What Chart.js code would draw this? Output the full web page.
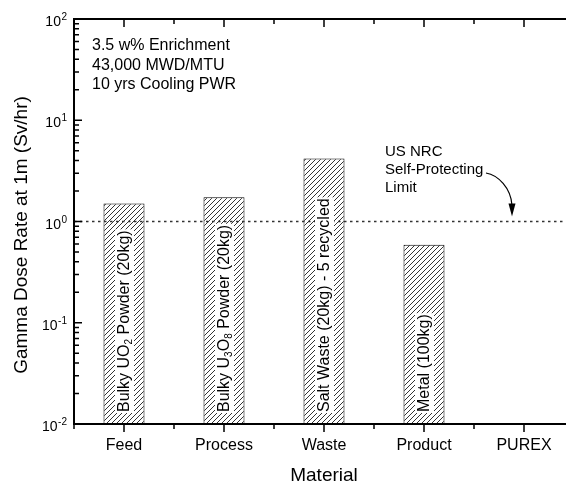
<!DOCTYPE html>
<html>
<head>
<meta charset="utf-8">
<script src="https://cdn.jsdelivr.net/npm/chart.js@4.4.0/dist/chart.umd.min.js"></script>
<style>
  html, body { margin: 0; padding: 0; background: #fff; overflow: hidden; }
  #wrap { width: 566px; height: 483px; overflow: hidden; }
  canvas { display: block; }
</style>
</head>
<body>
<div id="wrap"><canvas id="chart" width="600" height="483" style="width:600px;height:483px"></canvas></div>
<script>
const categories = ['Feed', 'Process', 'Waste', 'Product', 'PUREX'];
const doseRates = [1.51, 1.74, 4.2, 0.59, null];
// "_" marks the next character as a subscript
const barLabels = ['Bulky UO_2 Powder (20kg)', 'Bulky U_3O_8 Powder (20kg)', 'Salt Waste (20kg) - 5 recycled', 'Metal (100kg)', ''];
const yTickExponents = [-2, -1, 0, 1, 2];
const limitValue = 1;
const noteLines = ['3.5 w% Enrichment', '43,000 MWD/MTU', '10 yrs Cooling PWR'];
const limitLines = ['US NRC', 'Self-Protecting', 'Limit'];

const FONT = '"Liberation Sans", Arial, Helvetica, sans-serif';

function hatchPattern(ctx) {
    const s = 5;
    const c = document.createElement('canvas');
    c.width = s;
    c.height = s;
    const g = c.getContext('2d');
    g.fillStyle = '#fff';
    g.fillRect(0, 0, s, s);
    g.strokeStyle = '#000';
    g.lineWidth = 0.8;
    g.beginPath();
    g.moveTo(0, s); g.lineTo(s, 0);
    g.moveTo(-s / 2, s / 2); g.lineTo(s / 2, -s / 2);
    g.moveTo(s / 2, s * 1.5); g.lineTo(s * 1.5, s / 2);
    g.stroke();
    return ctx.createPattern(c, 'repeat');
}

function segments(str) {
    const out = [];
    let buf = '';
    for (let i = 0; i < str.length; i++) {
        if (str[i] === '_') {
            if (buf) out.push([buf, false]);
            buf = '';
            out.push([str[i + 1], true]);
            i++;
        } else {
            buf += str[i];
        }
    }
    if (buf) out.push([buf, false]);
    return out;
}

const decorations = {
    id: 'decorations',
    afterDatasetsDraw(chart) {
        const ctx = chart.ctx;
        const ys = chart.scales.y;
        const area = chart.chartArea;

        // self-protecting limit line
        const ly = ys.getPixelForValue(limitValue);
        ctx.save();
        ctx.strokeStyle = '#333';
        ctx.lineWidth = 1.3;
        ctx.setLineDash([2.5, 3.5]);
        ctx.beginPath();
        ctx.moveTo(area.left, ly);
        ctx.lineTo(area.right, ly);
        ctx.stroke();
        ctx.restore();

        // labels written up the bars
        const meta = chart.getDatasetMeta(0);
        meta.data.forEach((bar, i) => {
            const label = barLabels[i];
            if (!label || doseRates[i] == null) return;
            const segs = segments(label);
            ctx.save();
            ctx.translate(bar.x + 5, 412);
            ctx.rotate(-Math.PI / 2);
            let w = 0;
            segs.forEach(([t, sub]) => {
                ctx.font = (sub ? '10px ' : '16px ') + FONT;
                w += ctx.measureText(t).width;
            });
            ctx.fillStyle = '#fff';
            ctx.fillRect(-1, -14, w + 2, 19);
            ctx.fillStyle = '#000';
            ctx.textBaseline = 'alphabetic';
            ctx.textAlign = 'left';
            let x = 0;
            segs.forEach(([t, sub]) => {
                ctx.font = (sub ? '10px ' : '16px ') + FONT;
                ctx.fillText(t, x, sub ? 3 : 0);
                x += ctx.measureText(t).width;
            });
            ctx.restore();
        });
    },
    afterDraw(chart) {
        const ctx = chart.ctx;
        const xs = chart.scales.x;
        const ys = chart.scales.y;
        const area = chart.chartArea;
        ctx.save();
        ctx.strokeStyle = '#000';
        ctx.fillStyle = '#000';

        // frame
        ctx.lineWidth = 2;
        ctx.beginPath();
        ctx.moveTo(area.left, area.top);
        ctx.lineTo(area.right, area.top);
        ctx.lineTo(area.right, area.bottom);
        ctx.lineTo(area.left, area.bottom);
        ctx.closePath();
        ctx.stroke();

        // x ticks: majors at categories, minors between them
        ctx.lineWidth = 1.5;
        ctx.beginPath();
        categories.forEach((c, i) => {
            const x = xs.getPixelForValue(i);
            ctx.moveTo(x, area.bottom); ctx.lineTo(x, area.bottom + 8);
            ctx.moveTo(x, area.top); ctx.lineTo(x, area.top + 8);
        });
        for (let i = 0; i <= categories.length; i++) {
            const x = xs.getPixelForValue(i - 0.5);
            ctx.moveTo(x, area.bottom); ctx.lineTo(x, area.bottom + 5);
            ctx.moveTo(x, area.top); ctx.lineTo(x, area.top + 5);
        }
        // y ticks, inward
        yTickExponents.forEach(e => {
            const y = ys.getPixelForValue(Math.pow(10, e));
            ctx.moveTo(area.left, y); ctx.lineTo(area.left + 8, y);
            if (e < yTickExponents[yTickExponents.length - 1]) {
                for (let m = 2; m <= 9; m++) {
                    const ym = ys.getPixelForValue(m * Math.pow(10, e));
                    ctx.moveTo(area.left, ym); ctx.lineTo(area.left + 5, ym);
                }
            }
        });
        ctx.stroke();

        // y tick labels 10^n
        ctx.textBaseline = 'alphabetic';
        ctx.textAlign = 'right';
        yTickExponents.forEach(e => {
            const y = ys.getPixelForValue(Math.pow(10, e));
            const sup = String(e);
            ctx.font = '10px ' + FONT;
            const sw = ctx.measureText(sup).width;
            ctx.fillText(sup, 67, y + 1);
            ctx.font = '14px ' + FONT;
            ctx.fillText('10', 67 - sw - 0.5, y + 7);
        });

        // axis titles
        ctx.font = '19px ' + FONT;
        ctx.textAlign = 'center';
        ctx.fillText('Material', (area.left + area.right) / 2, 481);
        ctx.save();
        ctx.translate(27, 235);
        ctx.rotate(-Math.PI / 2);
        ctx.fillText('Gamma Dose Rate at 1m (Sv/hr)', 0, 0);
        ctx.restore();

        // notes
        ctx.textAlign = 'left';
        ctx.font = '16px ' + FONT;
        noteLines.forEach((t, i) => ctx.fillText(t, 92, 50 + i * 19.5));
        ctx.font = '15px ' + FONT;
        limitLines.forEach((t, i) => ctx.fillText(t, 385, 156 + i * 18));

        // arrow pointing at the limit line
        const ly = ys.getPixelForValue(limitValue);
        ctx.lineWidth = 1.2;
        ctx.beginPath();
        ctx.moveTo(486, 173);
        ctx.bezierCurveTo(498, 175, 511, 188, 512, ly - 16);
        ctx.stroke();
        ctx.beginPath();
        ctx.moveTo(512, ly - 5);
        ctx.lineTo(508.5, ly - 18);
        ctx.lineTo(515.5, ly - 18);
        ctx.closePath();
        ctx.fill();
        ctx.restore();
    }
};

const canvas = document.getElementById('chart');
const ctx = canvas.getContext('2d');

new Chart(ctx, {
    type: 'bar',
    data: {
        labels: categories,
        datasets: [{
            data: doseRates,
            backgroundColor: hatchPattern(ctx),
            borderColor: '#000',
            borderWidth: 1,
            borderSkipped: false,
            categoryPercentage: 1,
            barPercentage: 0.41
        }]
    },
    options: {
        responsive: false,
        animation: false,
        devicePixelRatio: 1,
        layout: { padding: { top: 19, right: 26, left: 0, bottom: 0 } },
        plugins: { legend: { display: false }, tooltip: { enabled: false } },
        scales: {
            x: {
                grid: { display: false, drawTicks: false },
                border: { display: false },
                ticks: {
                    color: '#000',
                    padding: 12,
                    font: { family: FONT, size: 16 },
                    maxRotation: 0
                },
                afterFit(scale) { scale.height = 59; }
            },
            y: {
                type: 'logarithmic',
                min: 0.01,
                max: 100,
                grid: { display: false },
                border: { display: false },
                ticks: { display: false },
                afterFit(scale) { scale.width = 74; }
            }
        }
    },
    plugins: [decorations]
});
</script>
</body>
</html>
